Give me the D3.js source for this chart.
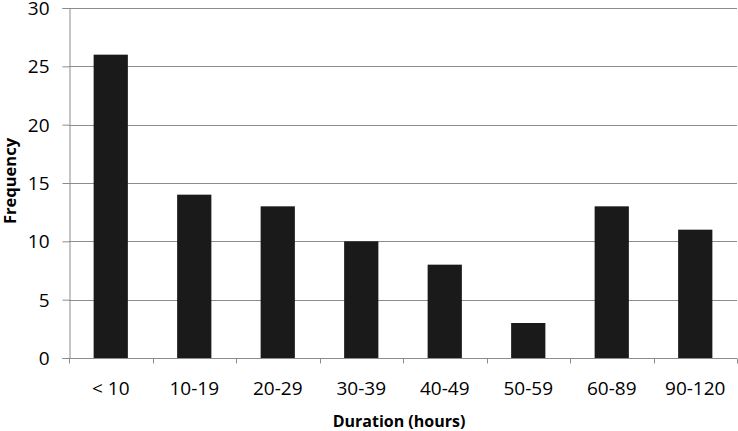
<!DOCTYPE html>
<html>
<head>
<meta charset="utf-8">
<script src="https://cdn.jsdelivr.net/npm/d3@7"></script>
<style>
  body { margin: 0; background: #fff; }
  text { font-family: "Open Sans", "Liberation Sans", sans-serif; fill: #000; }
</style>
</head>
<body>
<div id="chart"></div>
<script>
const categories = ["< 10", "10-19", "20-29", "30-39", "40-49", "50-59", "60-89", "90-120"];
const frequency = [26, 14, 13, 10, 8, 3, 13, 11];
const yTicks = [0, 5, 10, 15, 20, 25, 30];

const margin = { top: 8, right: 1, bottom: 73, left: 69 },
      width = 738 - margin.left - margin.right,
      height = 431 - margin.top - margin.bottom;

const svg = d3.select("#chart").append("svg")
    .attr("width", 738)
    .attr("height", 431)
  .append("g")
    .attr("transform", `translate(${margin.left},${margin.top})`);

const x = d3.scaleBand().domain(categories).range([0, width]).paddingInner(0.59).paddingOuter(0.295);
const y = d3.scaleLinear().domain([0, 30]).range([height, 0]);

// horizontal grid lines
svg.append("g")
    .selectAll("line")
    .data(yTicks.filter(d => d > 0))
    .enter().append("line")
      .attr("x1", 0)
      .attr("x2", width)
      .attr("y1", d => Math.round(y(d)) + 0.5)
      .attr("y2", d => Math.round(y(d)) + 0.5)
      .style("stroke", "#8c8c8c")
      .style("stroke-width", 1);

// bars
svg.selectAll(".bar")
    .data(frequency)
    .enter().append("rect")
      .attr("class", "bar")
      .attr("x", (d, i) => x(categories[i]))
      .attr("width", x.bandwidth())
      .attr("y", d => y(d))
      .attr("height", d => height - y(d))
      .style("fill", "#1a1a1a");

// y axis
const yAxis = svg.append("g")
    .attr("transform", "translate(0.5,0)")
    .call(d3.axisLeft(y).tickValues(yTicks).tickSize(7).tickPadding(13));
yAxis.select(".domain").attr("stroke", "#8c8c8c");
yAxis.selectAll(".tick line").attr("stroke", "#8c8c8c");
yAxis.selectAll("text").style("font-size", "19px").attr("dy", "0.34em");

// x axis with ticks on category boundaries
const xAxis = svg.append("g")
    .attr("transform", `translate(0,${Math.round(height) + 0.5})`);
xAxis.append("line")
    .attr("x1", 0).attr("x2", width)
    .style("stroke", "#8c8c8c");
const step = x.step();
xAxis.selectAll(".xtick")
    .data(d3.range(categories.length + 1))
    .enter().append("line")
      .attr("class", "xtick")
      .attr("x1", i => Math.round(i * step) + 0.5)
      .attr("x2", i => Math.round(i * step) + 0.5)
      .attr("y1", 0)
      .attr("y2", 5)
      .style("stroke", "#8c8c8c");
xAxis.selectAll(".xlabel")
    .data(categories)
    .enter().append("text")
      .attr("class", "xlabel")
      .attr("x", d => x(d) + x.bandwidth() / 2)
      .attr("y", 36)
      .style("text-anchor", "middle")
      .style("font-size", "19px")
      .text(d => d);

// X Axis Title
svg.append("text")
    .attr("x", width / 2 - 4)
    .attr("y", height + 69)
    .style("text-anchor", "middle")
    .style("font-size", "16px")
    .style("font-weight", "bold")
    .text("Duration (hours)");

// Y Axis Title
svg.append("text")
    .attr("transform", "rotate(-90)")
    .attr("y", -53)
    .attr("x", -height / 2 + 2)
    .style("text-anchor", "middle")
    .style("font-size", "16.5px")
    .style("font-weight", "bold")
    .text("Frequency");
</script>
</body>
</html>
